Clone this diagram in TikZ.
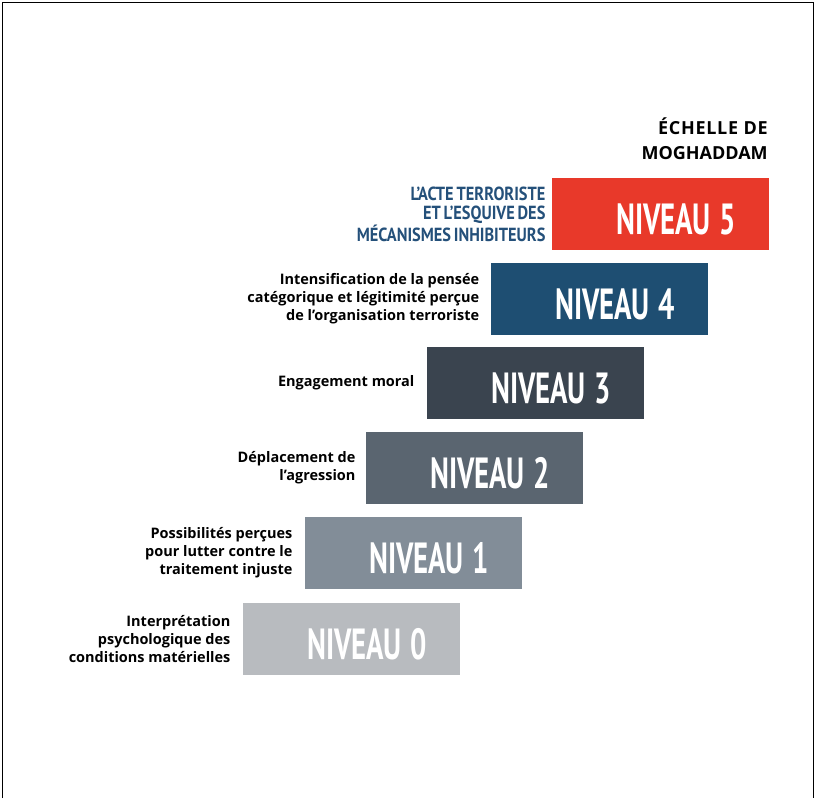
\documentclass[tikz,border=0pt]{standalone}
\usepackage{fontspec}
\setmainfont{Open Sans}
\newfontfamily\condfont[FakeStretch=0.66]{PT Sans Bold}
\newfontfamily\narrowfont[FakeStretch=0.86,WordSpace=0.7]{PT Sans Bold}
\usetikzlibrary{positioning}
\definecolor{LevelFive}{HTML}{E8392A}
\definecolor{LevelFour}{HTML}{1E4E72}
\definecolor{LevelThree}{HTML}{3A444F}
\definecolor{LevelTwo}{HTML}{5A6570}
\definecolor{LevelOne}{HTML}{828D98}
\definecolor{LevelZero}{HTML}{B8BBBF}
\definecolor{ActBlue}{HTML}{24507A}

\begin{document}
\begin{tikzpicture}[x=0.025cm, y=-0.025cm,
  level/.style={rectangle, minimum width=5.425cm, minimum height=1.8cm,
    inner xsep=0.825cm, inner ysep=0pt, text width=3.775cm, align=right,
    text=white, text height=1.0cm, text depth=0pt,
    font=\condfont\fontsize{31}{31}\selectfont},
  desc/.style={align=right, inner sep=0pt,
    font=\bfseries\fontsize{10.3}{12.8}\selectfont},
  heading/.style={align=right, inner sep=0pt,
    font=\bfseries\fontsize{12.8}{17.5}\selectfont}]
  \useasboundingbox (0,0) rectangle (816,798);
  \draw[line width=1.1pt] (2.5,798) -- (2.5,2.5) -- (813.5,2.5) -- (813.5,798);

  % the six steps
  \node[level, fill=LevelZero] (n0) at (351.5,639) {NIVEAU\hspace{0.2em}0};
  \node[level, fill=LevelOne] (n1) at (413.5,553) {NIVEAU\hspace{0.2em}1};
  \node[level, fill=LevelTwo] (n2) at (474.5,468) {NIVEAU\hspace{0.2em}2};
  \node[level, fill=LevelThree] (n3) at (535.5,383) {NIVEAU\hspace{0.2em}3};
  \node[level, fill=LevelFour] (n4) at (599.5,299) {NIVEAU\hspace{0.2em}4};
  \node[level, fill=LevelFive] (n5) at (660.5,214) {NIVEAU\hspace{0.2em}5};

  % descriptions
  \node[desc, left=0.3cm of n0] (d0) {Interprétation\\psychologique des\\conditions matérielles};
  \node[desc, left=0.3cm of n1] (d1) {Possibilités perçues\\pour lutter contre le\\traitement injuste};
  \node[desc, left=0.25cm of n2] (d2) {Déplacement de\\l’agression};
  \node[desc, left=0.3cm of n3] (d3) {Engagement moral};
  \node[desc, left=0.28cm of n4] (d4) {Intensification de la pensée\\catégorique et légitimité perçue\\de l’organisation terroriste};
  \node[desc, left=0.15cm of n5, text=ActBlue, font=\narrowfont\fontsize{13.5}{13.4}\selectfont] (d5)
    {L’ACTE TERRORISTE\\ET L’ESQUIVE DES\\MÉCANISMES INHIBITEURS};

  \node[heading, anchor=east] (title) at (768,139) {\addfontfeatures{LetterSpace=4}ÉCHELLE DE\\MOGHADDAM};
\end{tikzpicture}
\end{document}
